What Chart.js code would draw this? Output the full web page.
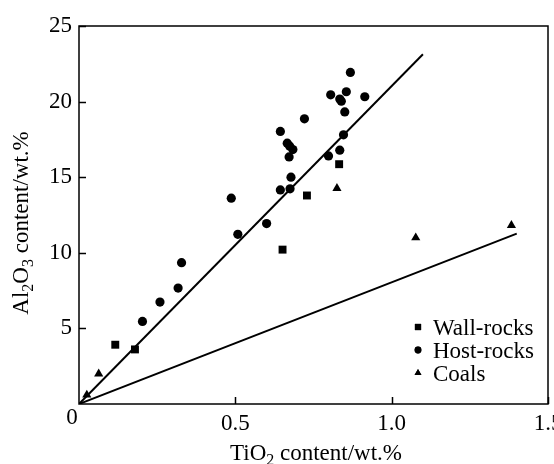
<!DOCTYPE html>
<html>
<head>
<meta charset="utf-8">
<script src="https://cdn.jsdelivr.net/npm/chart.js@4/dist/chart.umd.min.js"></script>
<style>
  html, body { margin: 0; padding: 0; background: #fff; }
  #wrap { width: 554px; height: 464px; }
</style>
</head>
<body>
<div id="wrap"><canvas id="chart" width="554" height="464"></canvas></div>
<script>
// values (TiO2 vs Al2O3, wt.%)
const wallX = [0.832, 0.729, 0.651, 0.116, 0.179];
const wallY = [15.86, 13.79, 10.21, 3.92, 3.61];

const hostX = [0.868, 0.805, 0.855, 0.834, 0.839, 0.914, 0.850, 0.721, 0.644, 0.846,
  0.666, 0.674, 0.684, 0.672, 0.798, 0.834, 0.678, 0.644, 0.675, 0.487,
  0.600, 0.508, 0.328, 0.317, 0.259, 0.203];
const hostY = [21.93, 20.45, 20.65, 20.17, 20.03, 20.32, 19.32, 18.86, 18.03, 17.80,
  17.25, 17.05, 16.83, 16.34, 16.41, 16.79, 15.00, 14.16, 14.23, 13.61,
  11.93, 11.22, 9.35, 7.67, 6.74, 5.46];

const coalX = [0.825, 1.077, 1.383, 0.063, 0.025];
const coalY = [14.27, 11.00, 11.82, 2.00, 0.60];

// trend lines through the origin
const upperLineX = [0, 1.10];
const upperLineY = [0, 23.13];
const lowerLineX = [0, 1.40];
const lowerLineY = [0, 11.27];

const xTicks = [0.5, 1.0, 1.5];
const yTicks = [5, 10, 15, 20, 25];

const FONT = "Liberation Serif, Times New Roman, serif";

function pts(xs, ys) {
  return xs.map((x, i) => ({ x: x, y: ys[i] }));
}

// axis box, inward ticks, titles with subscripts, legend
const decor = {
  id: "decor",
  afterDraw(chart) {
    const ctx = chart.ctx;
    const a = chart.chartArea;
    const xs = chart.scales.x;
    const ys = chart.scales.y;
    ctx.save();
    ctx.strokeStyle = "#000";
    ctx.lineWidth = 1.5;
    ctx.strokeRect(a.left, a.top, a.right - a.left, a.bottom - a.top);

    ctx.beginPath();
    xTicks.forEach((v) => {
      const px = Math.round(xs.getPixelForValue(v)) + 0.5;
      ctx.moveTo(px, a.bottom);
      ctx.lineTo(px, a.bottom - 7);
    });
    yTicks.forEach((v) => {
      const py = Math.round(ys.getPixelForValue(v)) + 0.5;
      ctx.moveTo(a.left, py);
      ctx.lineTo(a.left + 7, py);
    });
    ctx.stroke();

    ctx.fillStyle = "#000";
    ctx.textBaseline = "alphabetic";

    // shared origin label
    ctx.font = "23px " + FONT;
    ctx.textAlign = "center";
    ctx.fillText("0", a.left - 7, a.bottom + 20);

    // x title
    drawRich(ctx, [["Ti", false], ["O", false], ["2", true], [" content/wt.%", false]], 316, 460);

    // y title, rotated
    ctx.save();
    ctx.translate(28, 223);
    ctx.rotate(-Math.PI / 2);
    drawRich(ctx, [["Al", false], ["2", true], ["O", false], ["3", true], [" content/wt.%", false]], 0, 0);
    ctx.restore();

    // legend
    const rows = chart.data.datasets.filter((d) => d.showInLegend);
    ctx.font = "23px " + FONT;
    ctx.textAlign = "left";
    rows.forEach((d, i) => {
      const y = 327 + i * 23;
      Chart.helpers.drawPoint(ctx, {
        pointStyle: d.pointStyle,
        radius: d.legendRadius,
        rotation: 0,
        borderWidth: 0
      }, 418, y);
      ctx.fillStyle = "#000";
      ctx.fill();
      ctx.fillText(d.label, 433, y + 8);
    });
    ctx.restore();
  }
};

function drawRich(ctx, parts, cx, baseY) {
  const big = "23px " + FONT;
  const small = "16px " + FONT;
  let total = 0;
  parts.forEach(([t, sub]) => {
    ctx.font = sub ? small : big;
    total += ctx.measureText(t).width;
  });
  let x = cx - total / 2;
  ctx.textAlign = "left";
  parts.forEach(([t, sub]) => {
    ctx.font = sub ? small : big;
    ctx.fillText(t, x, baseY + (sub ? 5 : 0));
    x += ctx.measureText(t).width;
  });
}

new Chart("chart", {
  type: "scatter",
  data: {
    datasets: [
      {
        label: "Wall-rocks",
        data: pts(wallX, wallY),
        pointStyle: "rect",
        pointRadius: 5.6,
        legendRadius: 4.4,
        showInLegend: true,
        backgroundColor: "#000",
        borderWidth: 0
      },
      {
        label: "Host-rocks",
        data: pts(hostX, hostY),
        pointStyle: "circle",
        pointRadius: 4.6,
        legendRadius: 3.4,
        showInLegend: true,
        backgroundColor: "#000",
        borderWidth: 0
      },
      {
        label: "Coals",
        data: pts(coalX, coalY),
        pointStyle: "triangle",
        pointRadius: 5.3,
        legendRadius: 4,
        showInLegend: true,
        backgroundColor: "#000",
        borderWidth: 0
      },
      {
        type: "line",
        label: "fit1",
        data: pts(upperLineX, upperLineY),
        borderColor: "#000",
        borderWidth: 2,
        pointRadius: 0,
        fill: false
      },
      {
        type: "line",
        label: "fit2",
        data: pts(lowerLineX, lowerLineY),
        borderColor: "#000",
        borderWidth: 2,
        pointRadius: 0,
        fill: false
      }
    ]
  },
  options: {
    responsive: false,
    animation: false,
    devicePixelRatio: 1,
    layout: {
      padding: { top: 26, right: 6, left: 0, bottom: 0 }
    },
    plugins: {
      legend: { display: false },
      tooltip: { enabled: false }
    },
    scales: {
      x: {
        type: "linear",
        min: 0,
        max: 1.5,
        grid: { display: false, drawTicks: false },
        border: { display: false },
        ticks: {
          stepSize: 0.5,
          padding: 6,
          color: "#000",
          font: { family: FONT, size: 23 },
          maxRotation: 0,
          callback: (v) => (v === 0 ? "" : v.toFixed(1))
        },
        afterFit(scale) {
          scale.height = 60;
          scale.paddingLeft = 0;
          scale.paddingRight = 0;
        }
      },
      y: {
        min: 0,
        max: 25,
        grid: { display: false, drawTicks: false },
        border: { display: false },
        ticks: {
          stepSize: 5,
          padding: 7,
          color: "#000",
          font: { family: FONT, size: 23 },
          callback: (v) => (v === 0 ? "" : v)
        },
        afterFit(scale) {
          scale.width = 79;
          scale.paddingTop = 0;
          scale.paddingBottom = 0;
        }
      }
    }
  },
  plugins: [decor]
});
</script>
</body>
</html>
